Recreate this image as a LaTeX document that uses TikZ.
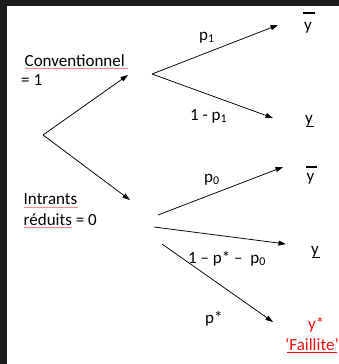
\documentclass[tikz,border=0pt]{standalone}
\usepackage{fontspec}
\setmainfont{Carlito}
\usetikzlibrary{arrows.meta}
\definecolor{frame}{HTML}{1C1C1C}
\definecolor{txtred}{HTML}{F01010}
\begin{document}
\begin{tikzpicture}[x=1pt,y=-1pt,
  lbl/.style={anchor=base west,inner sep=0pt,font=\fontsize{17}{20.5}\selectfont},
  arr/.style={line width=0.75pt,-{Triangle[length=7.5pt,width=5pt]}},
  spell/.style={line width=0.5pt,red!45},
  bar/.style={line width=1.2pt}]
\useasboundingbox (0,0) rectangle (339,364);
\fill[white] (0,0) rectangle (339,364);
\fill[frame] (0,0) rectangle (339,6);
\fill[frame] (0,0) rectangle (7,364);
% left labels
\node[lbl] (conv) at (24.5,66) {Conventionnel};
\node[lbl] (convv) at (21,85.5) {= 1};
\node[lbl] (intr) at (23.5,204.5) {Intrants};
\node[lbl] (intrb) at (23.5,225) {réduits = 0};
\draw[spell] (25,68) -- (128,68);
\draw[spell] (24,207) -- (78,207);
\draw[spell] (24,227.5) -- (72,227.5);
% branching coordinates
\coordinate (root) at (43,135);
\coordinate (c1) at (128,75);
\coordinate (c2) at (130,200);
\coordinate (cs) at (152,74);
\coordinate (ctop) at (278,25);
\coordinate (cbot) at (273,118);
\coordinate (is1) at (158,215);
\coordinate (ie1) at (283,167);
\coordinate (is2) at (154,227);
\coordinate (ie2) at (286,244);
\coordinate (is3) at (162,244);
\coordinate (ie3) at (273,322);
\draw[arr] (root) -- (c1);
\draw[arr] (root) -- (c2);
\draw[arr] (cs) -- (ctop);
\draw[arr] (cs) -- (cbot);
\draw[arr] (is1) -- (ie1);
\draw[arr] (is2) -- (ie2);
\draw[arr] (is3) -- (ie3);
% probability labels
\node[lbl] (p1) at (199,40) {p\textsubscript{1}};
\node[lbl] (q1) at (190,120) {1 - p\textsubscript{1}};
\node[lbl] (p0) at (204,182) {p\textsubscript{0}};
\node[lbl] (q0) at (188,263) {1 – p* –\ \ p\textsubscript{0}};
\node[lbl] (ps) at (205,323.5) {p*};
% outcomes
\node[lbl] (yb1) at (304,30.5) {y};
\draw[bar] (303,13) -- (314.5,13);
\node[lbl] (yu1) at (305,123.5) {y};
\draw[bar] (305.5,126.5) -- (314,126.5);
\node[lbl] (yb2) at (306.5,181.5) {y};
\draw[bar] (306,167) -- (317,167);
\node[lbl] (yu2) at (311,254.5) {y};
\draw[bar] (311.5,257.5) -- (320,257.5);
\node[lbl,text=txtred] (ystar) at (308,329.5) {y*};
\node[lbl,text=txtred] (fail) at (285,350) {‘Faillite’};
\draw[line width=0.8pt,txtred] (287,352.5) -- (337,352.5);
\end{tikzpicture}
\end{document}
